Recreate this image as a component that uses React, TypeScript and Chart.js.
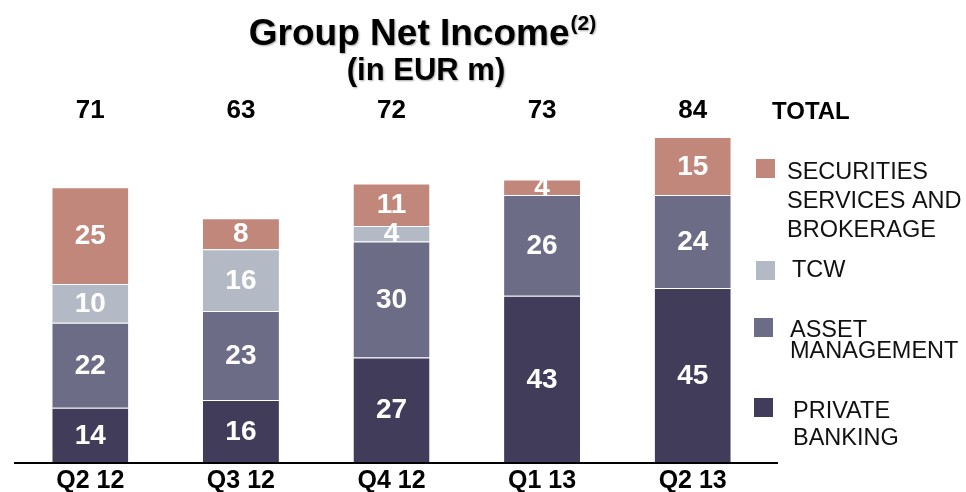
import React, { useEffect, useRef } from "react";
import { Chart, registerables } from "chart.js";

Chart.register(...registerables);

const categories = ["Q2 12", "Q3 12", "Q4 12", "Q1 13", "Q2 13"];
const privateBanking = [14, 16, 27, 43, 45];
const assetManagement = [22, 23, 30, 26, 24];
const tcw = [10, 16, 4, 0, 0];
const securitiesServices = [25, 8, 11, 4, 15];
const seriesLines = [
  ["PRIVATE", "BANKING"],
  ["ASSET", "MANAGEMENT"],
  ["TCW"],
  ["SECURITIES", "SERVICES AND", "BROKERAGE"],
];
const seriesColors = ["#403c59", "#6d6c86", "#b3bac6", "#c0877a"];
const titleText = "Group Net Income";
const titleSup = "(2)";
const subtitleText = "(in EUR m)";
const totalLabel = "TOTAL";

const FONT = "'Liberation Sans', Arial, sans-serif";

// legend layout (drawing positions only)
const legendLayout = [
  { sq: 398, sx: 754, tx: 793, base: [418, 445] },
  { sq: 318, sx: 754, tx: 790, base: [337, 358] },
  { sq: 261, sx: 756, tx: 792, base: [277] },
  { sq: 159, sx: 756, tx: 787, base: [179, 208, 237] },
];

const overlay = {
  id: "overlay",
  afterDatasetsDraw(chart: any) {
    const ctx = chart.ctx;
    const area = chart.chartArea;
    ctx.save();
    // segment labels
    ctx.textAlign = "center";
    ctx.textBaseline = "middle";
    ctx.fillStyle = "#ffffff";
    ctx.font = `bold 28px ${FONT}`;
    chart.data.datasets.forEach((ds: any, di: number) => {
      const meta = chart.getDatasetMeta(di);
      meta.data.forEach((bar: any, i: number) => {
        const v = ds.data[i];
        if (!v) return;
        const y = (bar.y + bar.base) / 2 + 1;
        ctx.fillText(String(v), bar.x, y);
      });
    });
    // totals
    ctx.fillStyle = "#000000";
    ctx.font = `bold 26px ${FONT}`;
    ctx.textBaseline = "alphabetic";
    const meta0 = chart.getDatasetMeta(0);
    categories.forEach((_, i) => {
      let sum = 0;
      chart.data.datasets.forEach((ds: any) => (sum += ds.data[i] || 0));
      ctx.fillText(String(sum), meta0.data[i].x, 118);
    });
    // x labels
    ctx.font = `bold 25px ${FONT}`;
    const xs = chart.scales.x;
    categories.forEach((c, i) => {
      ctx.fillText(c, xs.getPixelForValue(i), 488);
    });
    ctx.textAlign = "left";
    ctx.font = `bold 24px ${FONT}`;
    ctx.fillText(totalLabel, 772, 119);

    // axis line
    ctx.strokeStyle = "#000000";
    ctx.lineWidth = 2;
    ctx.beginPath();
    ctx.moveTo(14, area.bottom + 1);
    ctx.lineTo(778, area.bottom + 1);
    ctx.stroke();

    // legend
    ctx.font = `23.5px ${FONT}`;
    chart.data.datasets.forEach((ds: any, di: number) => {
      const L = legendLayout[di];
      ctx.fillStyle = ds.backgroundColor;
      ctx.fillRect(L.sx, L.sq, 19, 19);
      ctx.fillStyle = "#111111";
      seriesLines[di].forEach((line, li) => {
        ctx.fillText(line, L.tx, L.base[li]);
      });
    });

    // title
    ctx.shadowColor = "rgba(0,0,0,0.35)";
    ctx.shadowOffsetX = 1;
    ctx.shadowOffsetY = 1;
    ctx.shadowBlur = 2;
    ctx.fillStyle = "#000000";
    ctx.font = `bold 37px ${FONT}`;
    const w1 = ctx.measureText(titleText).width;
    ctx.font = `bold 21px ${FONT}`;
    const w2 = ctx.measureText(titleSup).width;
    const startX = 422 - (w1 + w2) / 2;
    ctx.font = `bold 37px ${FONT}`;
    ctx.fillText(titleText, startX, 45);
    ctx.font = `bold 21px ${FONT}`;
    ctx.fillText(titleSup, startX + w1 + 1, 30);
    ctx.textAlign = "center";
    ctx.font = `bold 31px ${FONT}`;
    ctx.fillText(subtitleText, 426, 80);
    ctx.restore();
  },
};

export default function App() {
  const ref = useRef<HTMLCanvasElement | null>(null);
  useEffect(() => {
    if (!ref.current) return;
    const series = [privateBanking, assetManagement, tcw, securitiesServices];
    const chart = new Chart(ref.current, {
      type: "bar",
      data: {
        labels: categories,
        datasets: series.map((d, i) => ({
          label: seriesLines[i].join(" "),
          data: d,
          backgroundColor: seriesColors[i],
          borderColor: "rgba(255,255,255,0.3)",
          borderWidth: { top: 1, bottom: 0, left: 0, right: 0 },
          borderSkipped: false,
          categoryPercentage: 1,
          barPercentage: 0.505,
        })),
      },
      options: {
        responsive: false,
        animation: false,
        layout: { padding: { left: 15, right: 198, top: 137, bottom: 30 } },
        plugins: {
          legend: { display: false },
          title: { display: false },
          tooltip: { enabled: false },
        },
        scales: {
          x: {
            stacked: true,
            display: false,
          },
          y: {
            stacked: true,
            display: false,
            min: 0,
            max: 84,
          },
        },
      },
      plugins: [overlay],
    });
    return () => chart.destroy();
  }, []);
  return (
    <div style={{ position: "fixed", left: 0, top: 0, width: 966, height: 492, background: "#ffffff" }}>
      <canvas ref={ref} width={966} height={492} style={{ display: "block" }} />
    </div>
  );
}
